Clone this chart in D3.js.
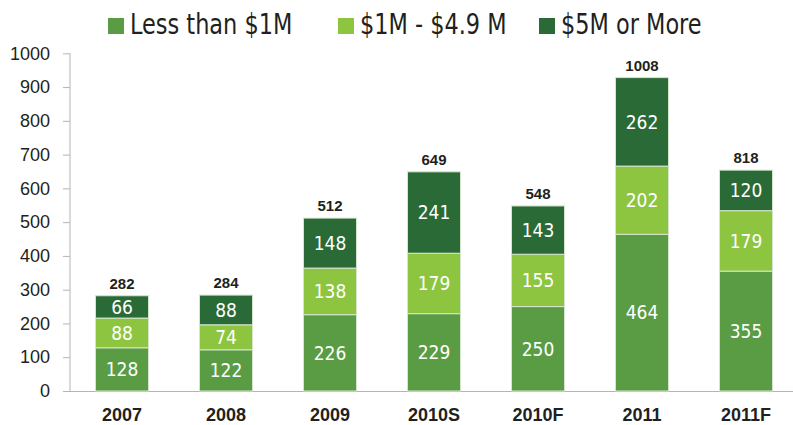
<!DOCTYPE html>
<html>
<head>
<meta charset="utf-8">
<script src="https://cdn.jsdelivr.net/npm/d3@7"></script>
<style>
  html, body { margin: 0; padding: 0; background: #fff; }
  svg { display: block; }
  .narrow { font-family: "DejaVu Sans Condensed", "DejaVu Sans", sans-serif; font-stretch: condensed; }
  .plain { font-family: "Liberation Sans", Arial, sans-serif; }
</style>
</head>
<body>
<div class="js-chart"></div>
<script>
var categories = ['2007', '2008', '2009', '2010S', '2010F', '2011', '2011F'];
var lessThan1M = [128, 122, 226, 229, 250, 464, 355];
var from1To49M = [88, 74, 138, 179, 155, 202, 179];
var over5M = [66, 88, 148, 241, 143, 262, 120];
var totals = [282, 284, 512, 649, 548, 1008, 818];
var seriesNames = ['Less than $1M', '$1M - $4.9 M', '$5M or More'];
var yTicks = [0, 100, 200, 300, 400, 500, 600, 700, 800, 900, 1000];

var width = 793,
    height = 425,
    colors = ['#5a9c44', '#8dc540', '#2a6a36'];

var rows = categories.map(function (cat, i) {
  return { cat: cat, s0: lessThan1M[i], s1: from1To49M[i], s2: over5M[i], total: totals[i] };
});

var svg = d3.select('.js-chart').append('svg')
            .attr('width', width)
            .attr('height', height);

var x = d3.scaleBand()
          .domain(categories)
          .range([70, 798])
          .paddingInner(0.49)
          .paddingOuter(0.245);

var y = d3.scaleLinear()
          .domain([0, 1000])
          .range([391, 53.3]);

// y axis
var yAxis = svg.append('g')
               .attr('transform', 'translate(70,0)')
               .call(d3.axisLeft(y).tickValues(yTicks).tickFormat(d3.format('d')).tickSize(7).tickPadding(13));
yAxis.select('.domain').attr('stroke', '#b4b4b4').attr('d', 'M0,' + y(1000) + 'V' + y(0));
yAxis.selectAll('.tick line').attr('stroke', '#b4b4b4');
yAxis.selectAll('.tick text')
     .attr('class', 'plain')
     .attr('fill', '#231f20')
     .style('font-size', '18px');

// x axis
var xAxis = svg.append('g')
               .attr('transform', 'translate(0,' + y(0) + ')')
               .call(d3.axisBottom(x).tickSize(0).tickPadding(17));
xAxis.select('.domain').attr('stroke', '#b4b4b4').attr('d', 'M63,0.5H793');
xAxis.selectAll('.tick text')
     .attr('class', 'plain')
     .attr('fill', '#231f20')
     .style('font-size', '18px')
     .style('font-weight', 'bold');

var stack = d3.stack().keys(['s0', 's1', 's2']);
var layers = stack(rows);

var layer = svg.selectAll('g.layer')
               .data(layers)
               .enter()
               .append('g')
               .attr('class', 'layer')
               .attr('fill', function (d, i) { return colors[i]; });

layer.selectAll('rect')
     .data(function (d) { return d; })
     .enter()
     .append('rect')
     .attr('x', function (d) { return x(d.data.cat); })
     .attr('y', function (d) { return y(d[1]); })
     .attr('width', x.bandwidth())
     .attr('height', function (d) { return y(d[0]) - y(d[1]); })
     .attr('stroke', '#d6e6cf')
     .attr('stroke-width', 1);

layer.selectAll('text')
     .data(function (d) { return d; })
     .enter()
     .append('text')
     .attr('class', 'narrow')
     .attr('x', function (d) { return x(d.data.cat) + x.bandwidth() / 2; })
     .attr('y', function (d) { return (y(d[0]) + y(d[1])) / 2; })
     .attr('dy', '0.36em')
     .attr('text-anchor', 'middle')
     .attr('fill', '#fff')
     .style('font-size', '19px')
     .text(function (d) { return d[1] - d[0]; });

// totals above each bar
svg.selectAll('text.total')
   .data(rows)
   .enter()
   .append('text')
   .attr('class', 'total plain')
   .attr('x', function (d) { return x(d.cat) + x.bandwidth() / 2; })
   .attr('y', function (d) { return y(d.s0 + d.s1 + d.s2) - 7; })
   .attr('text-anchor', 'middle')
   .attr('fill', '#231f20')
   .style('font-size', '15px')
   .style('font-weight', 'bold')
   .text(function (d) { return d.total; });

// legend
var legendX = [108, 338, 539];
var legend = svg.selectAll('g.legend')
                .data(seriesNames)
                .enter()
                .append('g')
                .attr('class', 'legend')
                .attr('transform', function (d, i) { return 'translate(' + legendX[i] + ',0)'; });

legend.append('rect')
      .attr('y', 18)
      .attr('width', 16)
      .attr('height', 16)
      .attr('fill', function (d, i) { return colors[i]; });

legend.append('text')
      .attr('class', 'narrow')
      .attr('transform', 'translate(22,34) scale(0.86,1)')
      .attr('fill', '#231f20')
      .style('font-size', '29px')
      .text(function (d) { return d; });
</script>
</body>
</html>
